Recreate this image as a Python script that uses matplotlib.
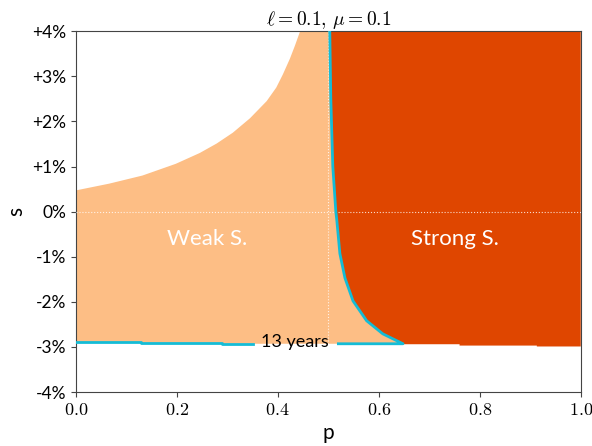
import matplotlib.pyplot as plt
import numpy as np

plt.rcParams['mathtext.fontset'] = 'cm'
plt.rcParams['font.family'] = ['Lato', 'DejaVu Sans']

# upper edge of the weak-selection region (s in %)
weak_top_p = [0.0, 0.066, 0.132, 0.198, 0.2455, 0.279, 0.311, 0.345, 0.378, 0.397,
              0.41, 0.424, 0.434, 0.4436, 0.452, 0.46, 0.66]
weak_top_s = [0.47, 0.62, 0.80, 1.06, 1.30, 1.51, 1.75, 2.07, 2.45, 2.75,
              3.04, 3.39, 3.68, 3.98, 4.3, 5.0, 5.0]
# lower edge of the weak-selection region
weak_bot_p = [0.0, 0.13, 0.13, 0.29, 0.29, 0.66]
weak_bot_s = [-2.89, -2.89, -2.91, -2.91, -2.93, -2.93]

# left edge of the strong-selection region, top to bottom
strong_s = [4.0, 2.5, 1.0, 0.0, -0.2, -0.93, -1.47, -1.98, -2.42, -2.71, -2.93]
strong_p = [0.503, 0.505, 0.509, 0.515, 0.517, 0.523, 0.533, 0.549, 0.576, 0.608, 0.648]
# lower edge of the strong-selection region
strong_bot_p = [0.648, 0.76, 0.76, 0.913, 0.913, 1.0]
strong_bot_s = [-2.94, -2.94, -2.97, -2.97, -2.99, -2.99]

# 13-year contour, left piece along the bottom
contour_level = 13
years_left_p = [0.0, 0.13, 0.13, 0.29, 0.29, 0.35]
years_left_s = [-2.89, -2.89, -2.91, -2.91, -2.93, -2.93]
years_gap_end = 0.52

light = '#fdbe85'
dark = '#df4600'
cyan = '#14bcd6'

fig = plt.figure(figsize=(5.92, 4.46), dpi=100)
ax = fig.add_axes([0.128, 0.121, 0.853, 0.809])

# weak region
px = weak_top_p + weak_bot_p[::-1]
py = weak_top_s + weak_bot_s[::-1]
ax.fill(px, py, color=light, lw=0, zorder=1)

# strong region
sx = [strong_p[0]] + strong_p + strong_bot_p + [1.0, 1.0]
sy = [5.0] + strong_s + strong_bot_s + [5.0, 5.0]
ax.fill(sx, sy, color=dark, lw=0, zorder=2)

# guide lines
ax.axhline(0, color='white', ls=':', lw=0.8, alpha=0.8, zorder=3)
ax.plot([0.5, 0.5], [weak_bot_s[-1], 4.0], color='white', ls=':', lw=0.8, alpha=0.8, zorder=3)

# contour line
ax.plot(years_left_p, years_left_s, color=cyan, lw=2, zorder=4)
ax.plot([years_gap_end] + strong_p[::-1], [strong_s[-1]] + strong_s[::-1],
        color=cyan, lw=2, zorder=4)
ax.text(0.434, -2.9, f'{contour_level} years', ha='center', va='center',
        fontsize=13, color='black', zorder=5)

ax.text(0.26, -0.6, 'Weak S.', ha='center', va='center', fontsize=16, color='white', zorder=5)
ax.text(0.75, -0.6, 'Strong S.', ha='center', va='center', fontsize=16, color='white', zorder=5)

ax.set_xlim(0, 1)
ax.set_ylim(-4, 4)
xt = np.arange(0, 1.01, 0.2)
ax.set_xticks(xt)
ax.set_xticklabels([f'${v:.1f}$' for v in xt], fontsize=13)
yt = np.arange(-4, 5)
ax.set_yticks(yt)
ax.set_yticklabels([(f'+{v}%' if v > 0 else f'{v}%') for v in yt], fontsize=12.5)
for sp in ax.spines.values():
    sp.set_color('#444444')
ax.tick_params(colors='#444444', labelcolor='black')

ax.set_xlabel('p', fontsize=15)
ax.set_ylabel('s', fontsize=15)
ax.set_title(r'$\ell = 0.1,\, \mu = 0.1$', fontsize=14, pad=4)

fig.savefig('out.png', dpi=100)
